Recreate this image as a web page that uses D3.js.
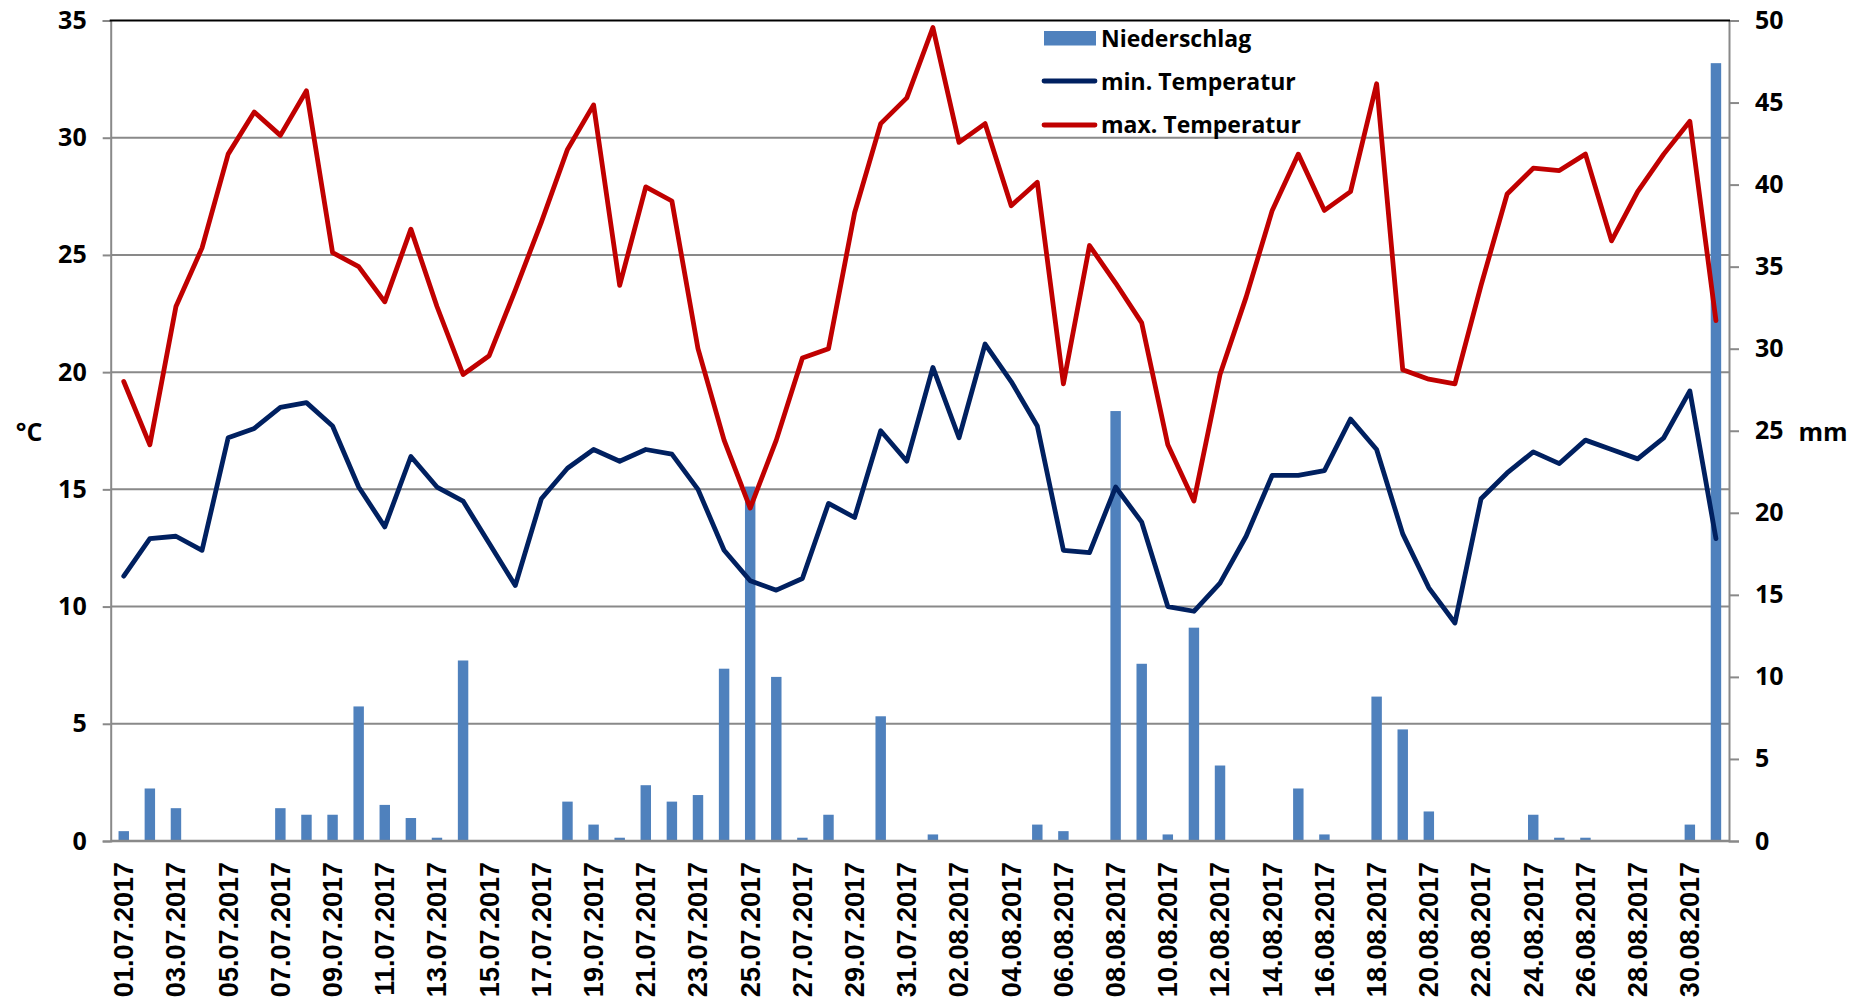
<!DOCTYPE html>
<html>
<head>
<meta charset="utf-8">
<script src="https://cdn.jsdelivr.net/npm/d3@7"></script>
<style>
  html, body { margin: 0; padding: 0; background: #ffffff; }
  svg { display: block; }
</style>
</head>
<body>
<svg id="chart" width="1867" height="1003"></svg>
<script>
// ---------- DATA ----------
const dates = [
  "01.07.2017","02.07.2017","03.07.2017","04.07.2017","05.07.2017","06.07.2017","07.07.2017","08.07.2017",
  "09.07.2017","10.07.2017","11.07.2017","12.07.2017","13.07.2017","14.07.2017","15.07.2017","16.07.2017",
  "17.07.2017","18.07.2017","19.07.2017","20.07.2017","21.07.2017","22.07.2017","23.07.2017","24.07.2017",
  "25.07.2017","26.07.2017","27.07.2017","28.07.2017","29.07.2017","30.07.2017","31.07.2017",
  "01.08.2017","02.08.2017","03.08.2017","04.08.2017","05.08.2017","06.08.2017","07.08.2017","08.08.2017",
  "09.08.2017","10.08.2017","11.08.2017","12.08.2017","13.08.2017","14.08.2017","15.08.2017","16.08.2017",
  "17.08.2017","18.08.2017","19.08.2017","20.08.2017","21.08.2017","22.08.2017","23.08.2017","24.08.2017",
  "25.08.2017","26.08.2017","27.08.2017","28.08.2017","29.08.2017","30.08.2017","31.08.2017"
];
// Niederschlag (mm), right axis
const niederschlag = [
  0.6, 3.2, 2.0, 0, 0, 0, 2.0, 1.6, 1.6, 8.2, 2.2, 1.4, 0.2, 11.0, 0, 0,
  0, 2.4, 1.0, 0.2, 3.4, 2.4, 2.8, 10.5, 21.6, 10.0, 0.2, 1.6, 0, 7.6, 0,
  0.4, 0, 0, 0, 1.0, 0.6, 0, 26.2, 10.8, 0.4, 13.0, 4.6, 0, 0, 3.2, 0.4,
  0, 8.8, 6.8, 1.8, 0, 0, 0, 1.6, 0.2, 0.2, 0, 0, 0, 1.0, 47.4
];
// min. Temperatur (°C)
const minTemp = [
  11.3, 12.9, 13.0, 12.4, 17.2, 17.6, 18.5, 18.7, 17.7, 15.1, 13.4, 16.4, 15.1, 14.5, 12.7, 10.9,
  14.6, 15.9, 16.7, 16.2, 16.7, 16.5, 15.0, 12.4, 11.1, 10.7, 11.2, 14.4, 13.8, 17.5, 16.2,
  20.2, 17.2, 21.2, 19.6, 17.7, 12.4, 12.3, 15.1, 13.6, 10.0, 9.8, 11.0, 13.0, 15.6, 15.6, 15.8,
  18.0, 16.7, 13.1, 10.8, 9.3, 14.6, 15.7, 16.6, 16.1, 17.1, 16.7, 16.3, 17.2, 19.2, 12.9
];
// max. Temperatur (°C)
const maxTemp = [
  19.6, 16.9, 22.8, 25.3, 29.3, 31.1, 30.1, 32.0, 25.1, 24.5, 23.0, 26.1, 22.8, 19.9, 20.7, 23.5,
  26.4, 29.5, 31.4, 23.7, 27.9, 27.3, 21.0, 17.1, 14.2, 17.1, 20.6, 21.0, 26.8, 30.6, 31.7,
  34.7, 29.8, 30.6, 27.1, 28.1, 19.5, 25.4, 23.8, 22.1, 16.9, 14.5, 19.9, 23.2, 26.9, 29.3, 26.9,
  27.7, 32.3, 20.1, 19.7, 19.5, 23.7, 27.6, 28.7, 28.6, 29.3, 25.6, 27.7, 29.3, 30.7, 22.2
];
const tempTicks = [0, 5, 10, 15, 20, 25, 30, 35];
const precipTicks = [0, 5, 10, 15, 20, 25, 30, 35, 40, 45, 50];
const xTickLabels = dates.filter((d, i) => i % 2 === 0);
const legendLabels = ["Niederschlag", "min. Temperatur", "max. Temperatur"];

// ---------- LAYOUT ----------
const svg = d3.select("#chart");
const X0 = 110.7, X1 = 1729, YB = 841, YT = 20.5;
const C_BAR = "#4F81BD", C_MIN = "#002060", C_MAX = "#C00000", C_GRID = "#898989";
const FONT = "'Open Sans', 'DejaVu Sans', sans-serif";
const FONT_X = "'Liberation Sans', Arial, sans-serif";

const x = d3.scaleBand().domain(dates).range([X0, X1]).paddingInner(0).paddingOuter(0);
const yT = d3.scaleLinear().domain([0, 35]).range([YB, YT]);
const yP = d3.scaleLinear().domain([0, 50]).range([YB, YT]);

svg.append("rect").attr("width", 1867).attr("height", 1003).attr("fill", "#fff");

// gridlines
svg.append("g").selectAll("line")
  .data(tempTicks.filter(t => t > 0 && t < 35))
  .join("line")
  .attr("x1", X0).attr("x2", X1)
  .attr("y1", d => yT(d)).attr("y2", d => yT(d))
  .attr("stroke", C_GRID).attr("stroke-width", 2);

// left axis
const gL = svg.append("g").attr("transform", `translate(${X0},0)`)
  .call(d3.axisLeft(yT).tickValues(tempTicks).tickSize(8).tickPadding(16).tickFormat(d3.format("d")));
gL.select(".domain").attr("stroke", C_GRID).attr("stroke-width", 2);
gL.selectAll(".tick line").attr("stroke", C_GRID).attr("stroke-width", 2);
gL.selectAll(".tick text").attr("font-family", FONT).attr("font-weight", "bold")
  .attr("font-size", 25).attr("fill", "#000");

// right axis
const gR = svg.append("g").attr("transform", `translate(${X1},0)`)
  .call(d3.axisRight(yP).tickValues(precipTicks).tickSize(10).tickPadding(16).tickFormat(d3.format("d")));
gR.select(".domain").attr("stroke", C_GRID).attr("stroke-width", 2);
gR.selectAll(".tick line").attr("stroke", C_GRID).attr("stroke-width", 2);
gR.selectAll(".tick text").attr("font-family", FONT).attr("font-weight", "bold")
  .attr("font-size", 25).attr("fill", "#000");

// bars
const bw = x.bandwidth() * 0.4;
svg.append("g").selectAll("rect")
  .data(niederschlag.map((v, i) => ({ d: dates[i], v })))
  .join("rect")
  .attr("x", d => x(d.d) + (x.bandwidth() - bw) / 2)
  .attr("width", bw)
  .attr("y", d => yP(d.v))
  .attr("height", d => YB - yP(d.v))
  .attr("fill", C_BAR);

// bottom axis line & top border
svg.append("line").attr("x1", X0).attr("x2", X1).attr("y1", YB).attr("y2", YB)
  .attr("stroke", C_GRID).attr("stroke-width", 2.5);
svg.append("line").attr("x1", X0 - 1).attr("x2", X1 + 1).attr("y1", YT).attr("y2", YT)
  .attr("stroke", "#000").attr("stroke-width", 2.2);

// x axis labels
const gX = svg.append("g").attr("transform", `translate(0,${YB})`)
  .call(d3.axisBottom(x).tickValues(xTickLabels).tickSize(0).tickPadding(0));
gX.select(".domain").remove();
gX.selectAll(".tick text")
  .attr("font-family", FONT_X).attr("font-weight", "bold").attr("font-size", 27).attr("fill", "#000")
  .attr("transform", "rotate(-90)")
  .attr("text-anchor", "end")
  .attr("x", -21).attr("y", 0).attr("dy", "0.35em");

// lines
const line = d3.line().x((d, i) => x(dates[i]) + x.bandwidth() / 2).y(d => yT(d));
svg.append("path").datum(minTemp).attr("d", line)
  .attr("fill", "none").attr("stroke", C_MIN).attr("stroke-width", 4.8)
  .attr("stroke-linejoin", "round").attr("stroke-linecap", "round");
svg.append("path").datum(maxTemp).attr("d", line)
  .attr("fill", "none").attr("stroke", C_MAX).attr("stroke-width", 4.8)
  .attr("stroke-linejoin", "round").attr("stroke-linecap", "round");

// unit labels
svg.append("text").attr("x", 29).attr("y", 432).attr("text-anchor", "middle").attr("dy", "0.35em")
  .attr("font-family", FONT).attr("font-weight", "bold").attr("font-size", 25).text("°C");
svg.append("text").attr("x", 1823).attr("y", 432).attr("text-anchor", "middle").attr("dy", "0.35em")
  .attr("font-family", FONT).attr("font-weight", "bold").attr("font-size", 25).text("mm");

// legend
const lg = svg.append("g");
lg.append("rect").attr("x", 1044).attr("y", 31).attr("width", 52).attr("height", 14.5).attr("fill", C_BAR);
lg.append("line").attr("x1", 1044).attr("x2", 1095).attr("y1", 81).attr("y2", 81)
  .attr("stroke", C_MIN).attr("stroke-width", 4.8).attr("stroke-linecap", "round");
lg.append("line").attr("x1", 1044).attr("x2", 1095).attr("y1", 125).attr("y2", 125)
  .attr("stroke", C_MAX).attr("stroke-width", 4.8).attr("stroke-linecap", "round");
lg.selectAll("text").data(legendLabels).join("text")
  .attr("x", 1101).attr("y", (d, i) => [46.7, 90, 133.3][i])
  .attr("font-family", FONT).attr("font-weight", "bold").attr("font-size", 23).attr("fill", "#000")
  .text(d => d);
</script>
</body>
</html>
